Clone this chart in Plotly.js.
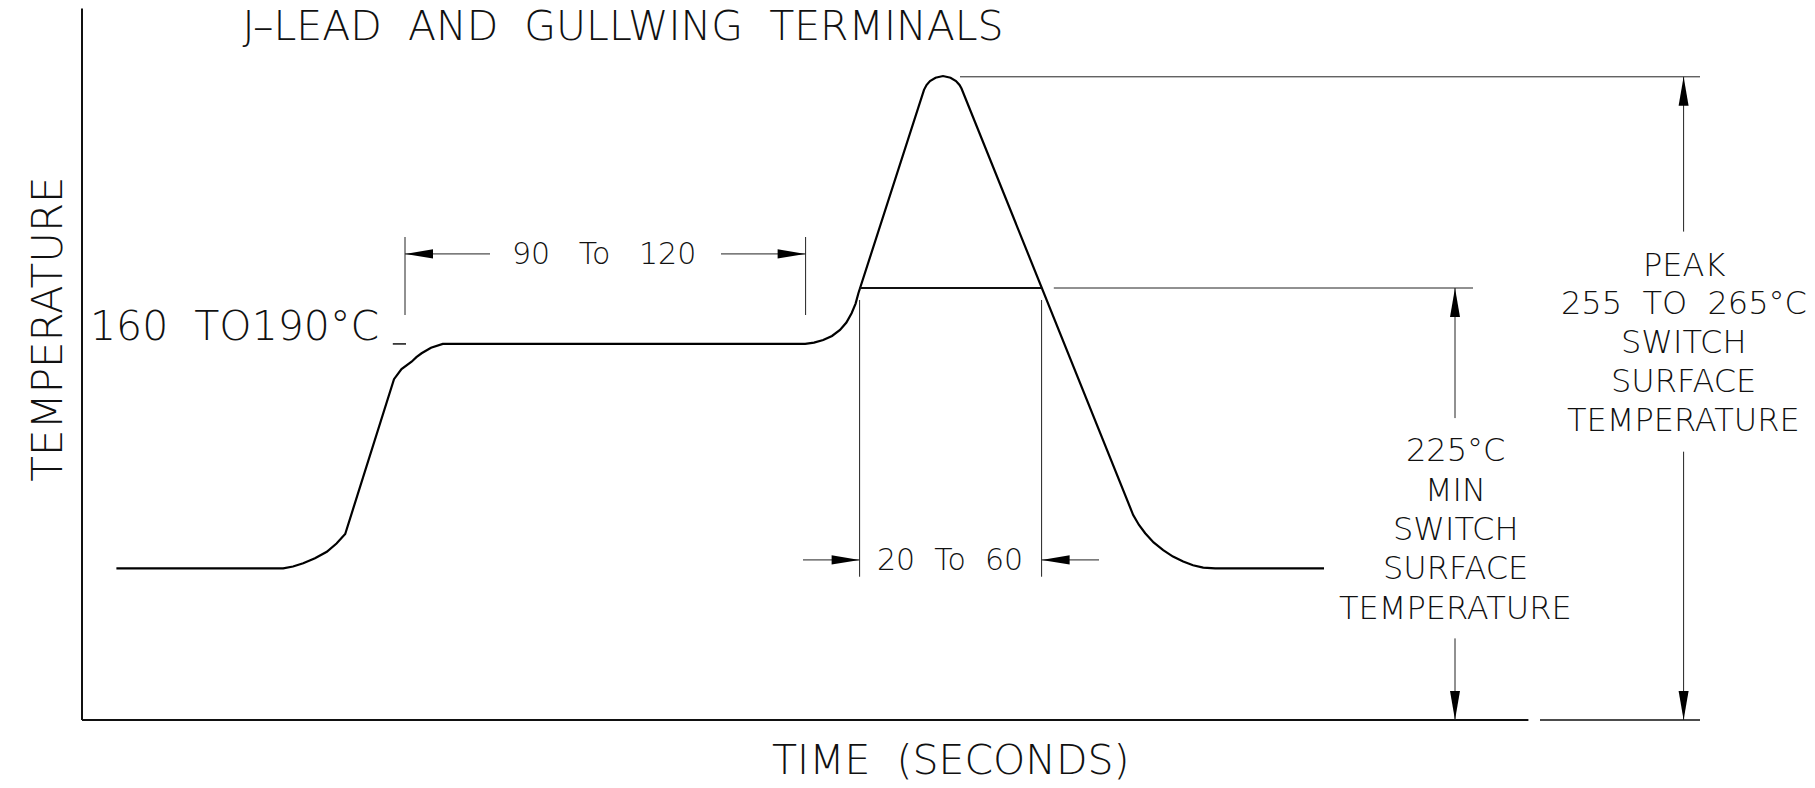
<!DOCTYPE html>
<html>
<head>
<meta charset="utf-8">
<script src="https://cdn.plot.ly/plotly-3.0.1.min.js"></script>
<style>
  html, body { margin: 0; padding: 0; background: #fff; }
  #chart { width: 1815px; height: 788px; }
</style>
</head>
<body>
<div id="chart"></div>
<script>
// ---------------- DATA (schematic units) ----------------
// Reflow profile: time (schematic seconds) and temperature (schematic units)
const profileTime = [8.6, 50.3, 52.75, 55.3, 58.25, 61.2, 63.63, 65.8,
                     78.0, 79.88, 82.4, 83.6, 84.9, 87.25, 90.2,
                     180.8, 183.0, 185.3, 187.5, 189.5, 191.1, 192.4, 193.4, 194.1,
                     210.5, 211.13, 212.0, 213.38, 215.25, 217.13, 218.5, 219.38, 219.88,
                     262.8, 264.25, 265.8, 267.9, 270.3, 272.75, 275.3, 277.75, 280.3, 283.3, 310.5];
const profileTemp = [63.2, 63.2, 63.96, 65.3, 67.38, 70.1, 73.54, 77.5,
                     142.0, 146.25, 149.3, 151.2, 152.8, 155.08, 156.7,
                     156.7, 157.25, 158.3, 160.0, 162.5, 165.6, 169.5, 173.5, 177.8,
                     262.58, 264.58, 266.25, 267.63, 268.33, 267.63, 266.25, 264.58, 263.13,
                     85.4, 81.25, 77.8, 74.0, 70.8, 68.1, 66.0, 64.46, 63.5, 63.2, 63.2];

// Key levels / times
const soakLevel = 156.7;          // 160 TO 190 °C plateau
const minReflowLevel = 180.0;     // 225 °C min
const peakLevel = 268.0;          // 255 to 265 °C peak
const soakWindow = [80.75, 180.9];    // 90 To 120
const reflowWindow = [194.4, 239.9];  // 20 To 60

// Texts
const titleText = 'J\u2013LEAD\u00a0 AND\u00a0 GULLWING\u00a0 TERMINALS';
const xTitleText = 'TIME\u00a0 (SECONDS)';
const yTitleText = 'TEMPERATURE';
const soakLabel = '160\u00a0 TO190°C';
const soakTimeLabel = '90\u00a0\u00a0 To\u00a0\u00a0 120';
const reflowTimeLabel = '20\u00a0 To\u00a0 60';
const minLabelLines = ['225°C', 'MIN', 'SWITCH', 'SURFACE', 'TEMPERATURE'];
const peakLabelLines = ['PEAK', '255\u00a0 TO\u00a0 265°C', 'SWITCH', 'SURFACE', 'TEMPERATURE'];

// ---------------- LAYOUT / STYLE ----------------
const PX_T = 4;     // pixels per time unit
const PX_K = 2.4;   // pixels per temperature unit
const FONT = {family: 'DejaVu Sans, Liberation Sans, sans-serif', color: '#111', weight: 200};
const DIM = '#222';

const shapes = [];
function seg(x0, y0, x1, y1, w, c) {
  shapes.push({type: 'line', xref: 'x', yref: 'y', x0: x0, y0: y0, x1: x1, y1: y1,
               line: {color: c || DIM, width: w || 1}});
}
function head(x, y, dir) {
  const L = 28, W = 4.6, LV = 29, WV = 5;
  let p;
  if (dir === 'left')  p = [[x, y], [x + L / PX_T, y + W / PX_K], [x + L / PX_T, y - W / PX_K]];
  if (dir === 'right') p = [[x, y], [x - L / PX_T, y + W / PX_K], [x - L / PX_T, y - W / PX_K]];
  if (dir === 'up')    p = [[x, y], [x - WV / PX_T, y - LV / PX_K], [x + WV / PX_T, y - LV / PX_K]];
  if (dir === 'down')  p = [[x, y], [x - WV / PX_T, y + LV / PX_K], [x + WV / PX_T, y + LV / PX_K]];
  shapes.push({type: 'path', xref: 'x', yref: 'y',
               path: 'M' + p.map(q => q[0] + ',' + q[1]).join(' L') + ' Z',
               fillcolor: '#000', line: {width: 0}});
}

// Axes (drawn as lines)
const xAxisEnd = 361.6, yAxisTop = 296.5;
seg(0, 0, 0, yAxisTop, 2, '#111');
seg(0, 0, xAxisEnd, 0, 2, '#111');
seg(364.5, 0, 404.5, 0, 1.3, '#111');

// Soak dash marker
seg(77.7, soakLevel, 81, soakLevel, 1.5, '#111');

// 90 To 120 dimension
const soakDimY = 194.2;
seg(soakWindow[0], 168.75, soakWindow[0], 201.25);
seg(soakWindow[1], 168.75, soakWindow[1], 201.25);
seg(soakWindow[0], soakDimY, 102, soakDimY);
seg(159.75, soakDimY, soakWindow[1], soakDimY);
head(soakWindow[0], soakDimY, 'left');
head(soakWindow[1], soakDimY, 'right');

// 20 To 60 dimension
const reflowDimY = 66.7;
seg(reflowWindow[0], 59.7, reflowWindow[0], 175);
seg(reflowWindow[1], 59.7, reflowWindow[1], 175);
seg(180.25, reflowDimY, reflowWindow[0], reflowDimY);
seg(reflowWindow[1], reflowDimY, 254.25, reflowDimY);
head(reflowWindow[0], reflowDimY, 'right');
head(reflowWindow[1], reflowDimY, 'left');

// 225 min level line
seg(reflowWindow[0], minReflowLevel, reflowWindow[1], minReflowLevel, 2, '#111');
seg(242.95, minReflowLevel, 347.75, minReflowLevel);
// Peak level line
seg(219.5, peakLevel, 404.5, peakLevel);

// Vertical arrows
const minArrowX = 343.25, peakArrowX = 400.4;
seg(minArrowX, minReflowLevel, minArrowX, 125.8);
seg(minArrowX, 34, minArrowX, 0);
head(minArrowX, minReflowLevel, 'up');
head(minArrowX, 0, 'down');
seg(peakArrowX, peakLevel, peakArrowX, 203.5);
seg(peakArrowX, 111.8, peakArrowX, 0);
head(peakArrowX, peakLevel, 'up');
head(peakArrowX, 0, 'down');

// Annotations
const annotations = [];
function txt(text, x, y, size, extra) {
  annotations.push(Object.assign({text: text, x: x, y: y, xref: 'x', yref: 'y',
    showarrow: false, xanchor: 'center', yanchor: 'middle',
    font: Object.assign({}, FONT, {size: size})}, extra || {}));
}
txt(xTitleText, 217.25, -16.7, 41);
txt(yTitleText, -8.7, 162.7, 42, {textangle: -90});
txt(soakLabel, 38, 164, 41);
txt(soakTimeLabel, 130.5, soakDimY, 30);
txt(reflowTimeLabel, 217.1, reflowDimY, 30);
const minLineY = [112.7, 96.0, 79.6, 63.2, 46.8];
minLabelLines.forEach((s, i) => txt(s, minArrowX, minLineY[i], 32));
const peakLineY = [189.6, 173.75, 157.5, 141.3, 124.8];
peakLabelLines.forEach((s, i) => txt(s, peakArrowX, peakLineY[i], 32));

const trace = {
  x: profileTime, y: profileTemp, type: 'scatter', mode: 'lines',
  line: {color: '#000', width: 2.2}, hoverinfo: 'skip'
};

const layout = {
  width: 1815, height: 788,
  margin: {l: 0, r: 0, t: 0, b: 0},
  paper_bgcolor: '#fff', plot_bgcolor: '#fff',
  showlegend: false,
  title: {text: titleText, x: 623 / 1815, xanchor: 'center', xref: 'paper',
          y: 1 - 26 / 788, yanchor: 'middle', yref: 'container',
          font: Object.assign({}, FONT, {size: 41})},
  xaxis: {range: [-82 / PX_T, (1815 - 82) / PX_T], visible: false, fixedrange: true},
  yaxis: {range: [-(788 - 720) / PX_K, 720 / PX_K], visible: false, fixedrange: true},
  shapes: shapes,
  annotations: annotations
};

Plotly.newPlot('chart', [trace], layout, {displayModeBar: false, staticPlot: true});
</script>
</body>
</html>
